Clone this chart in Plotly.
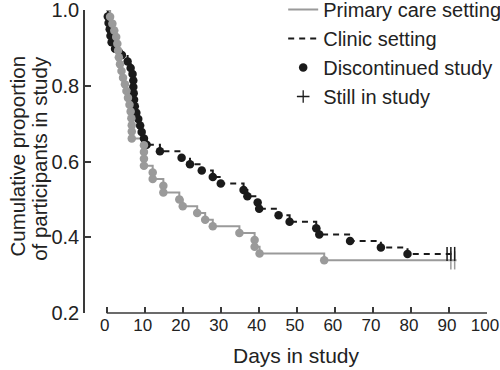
import plotly.graph_objects as go

# ---------------- data ----------------
# Primary care setting: event (discontinuation) times and survival after each event
primary_days = [0.9, 1.5, 2.0, 2.5, 2.8, 3.0, 3.2, 3.5, 3.9, 4.3, 4.8, 5.2, 5.6, 6.0,
                6.3, 6.5, 6.6, 6.6, 6.6, 9.8, 9.8, 9.8, 9.8, 12.1, 12.1, 14.9, 14.9,
                19.1, 20.0, 23.8, 25.9, 27.9, 34.9, 38.9, 38.9, 40.2, 57.2]
primary_surv = [0.982, 0.964, 0.946, 0.929, 0.911, 0.893, 0.875, 0.857, 0.839, 0.821,
                0.804, 0.786, 0.768, 0.750, 0.732, 0.714, 0.696, 0.679, 0.661, 0.643,
                0.625, 0.607, 0.589, 0.571, 0.554, 0.536, 0.518, 0.500, 0.482, 0.464,
                0.446, 0.429, 0.411, 0.393, 0.375, 0.357, 0.339]
primary_censor_days = [90.5, 91.5]
primary_end_day = 92.0

# Clinic setting
clinic_days = [0.3, 0.5, 0.8, 1.0, 1.3, 2.2, 4.0, 5.5, 6.3, 6.8, 7.0, 7.0, 7.1, 7.2,
               7.4, 7.8, 8.3, 8.8, 9.2, 9.8, 10.5, 14.0, 19.7, 21.9, 25.0, 27.9, 30.0,
               36.0, 37.0, 39.7, 40.1, 45.2, 48.1, 55.1, 55.9, 64.0, 72.1, 79.1]
clinic_surv = [0.983, 0.966, 0.949, 0.932, 0.915, 0.898, 0.881, 0.864, 0.847, 0.831,
               0.814, 0.797, 0.780, 0.763, 0.746, 0.729, 0.712, 0.695, 0.678, 0.661,
               0.644, 0.627, 0.610, 0.593, 0.576, 0.559, 0.542, 0.525, 0.508, 0.492,
               0.475, 0.458, 0.441, 0.424, 0.407, 0.390, 0.373, 0.356]
clinic_censor_days = [89.5, 90.5, 91.5]
clinic_end_day = 92.0

x_ticks = [0, 10, 20, 30, 40, 50, 60, 70, 80, 90, 100]
y_ticks = [0.2, 0.4, 0.6, 0.8, 1.0]
y_tick_labels = ["0.2", "0.4", "0.6", "0.8", "1.0"]

GRAY = "#9a9a9a"
BLACK = "#1a1a1a"
AXIS = "#3a3a3a"
FONT = "Liberation Sans, Arial, sans-serif"

fig = go.Figure()

# clinic step line (dashed)
fig.add_trace(go.Scatter(
    x=[0] + clinic_days + [clinic_end_day],
    y=[1.0] + clinic_surv + [clinic_surv[-1]],
    mode="lines", line=dict(color=BLACK, width=2, dash="6px,5px", shape="hv"),
    name="Clinic setting", legendrank=2, hoverinfo="skip"))
# primary step line
fig.add_trace(go.Scatter(
    x=[0] + primary_days + [primary_end_day],
    y=[1.0] + primary_surv + [primary_surv[-1]],
    mode="lines", line=dict(color=GRAY, width=2, shape="hv"),
    name="Primary care setting", legendrank=1, hoverinfo="skip"))
# clinic events
fig.add_trace(go.Scatter(
    x=clinic_days, y=clinic_surv, mode="markers",
    marker=dict(color=BLACK, size=8.5, symbol="circle"),
    name="Discontinued study", legendrank=3, showlegend=True))
# primary events
fig.add_trace(go.Scatter(
    x=primary_days, y=primary_surv, mode="markers",
    marker=dict(color=GRAY, size=8.5, symbol="circle"),
    showlegend=False))
# censor marks
fig.add_trace(go.Scatter(
    x=primary_censor_days, y=[primary_surv[-1]] * len(primary_censor_days),
    mode="markers", marker=dict(symbol="line-ns", size=13,
                                line=dict(color=GRAY, width=1.5)),
    showlegend=False))
fig.add_trace(go.Scatter(
    x=clinic_censor_days, y=[clinic_surv[-1]] * len(clinic_censor_days),
    mode="markers", marker=dict(symbol="line-ns", size=10,
                                line=dict(color=BLACK, width=1.5)),
    showlegend=False))
# legend-only entry for censor symbol
fig.add_trace(go.Scatter(
    x=[None], y=[None], mode="markers",
    marker=dict(symbol="cross-thin", size=9, line=dict(color=BLACK, width=1.3)),
    name="Still in study", legendrank=4))

# x axis line from 0 to 100 (offset-axis style)
fig.add_shape(type="line", xref="x", yref="paper", x0=x_ticks[0], x1=x_ticks[-1],
              y0=0, y1=0, line=dict(color=AXIS, width=1.5))

fig.add_annotation(text="Days in study", xref="x", yref="paper",
                   x=(x_ticks[0] + x_ticks[-1]) / 2, y=-0.14, showarrow=False,
                   xanchor="center", yanchor="middle",
                   font=dict(size=21, color="#222", family=FONT))
fig.add_annotation(text="Cumulative proportion",
                   xref="paper", yref="paper", x=-0.168, y=0.518, textangle=-90,
                   showarrow=False, xanchor="center", yanchor="middle",
                   font=dict(size=20.5, color="#222", family=FONT))
fig.add_annotation(text="of participants in study",
                   xref="paper", yref="paper", x=-0.112, y=0.512, textangle=-90,
                   showarrow=False, xanchor="center", yanchor="middle",
                   font=dict(size=20.5, color="#222", family=FONT))

fig.update_layout(
    width=500, height=370,
    margin=dict(l=85, r=13.3, t=10, b=57.3, autoexpand=False),
    paper_bgcolor="white", plot_bgcolor="white",
    font=dict(family=FONT, size=19, color="#222"),
    showlegend=True,
    legend=dict(x=0.493, y=1.066, xanchor="left", yanchor="top",
                bgcolor="rgba(0,0,0,0)", font=dict(size=20, color="#222"),
                traceorder="normal"),
    xaxis=dict(range=[-5.7, 100], tickvals=x_ticks, ticks="inside", ticklen=6,
               tickwidth=1.5, tickcolor=AXIS, showline=False, showgrid=False,
               zeroline=False, tickfont=dict(size=17, color="#222"),
               ticklabelshift=-2, ticklabeloverflow="allow"),
    yaxis=dict(range=[0.2, 1.0], tickvals=y_ticks, ticktext=y_tick_labels,
               ticks="inside", ticklen=6, tickwidth=1.5, tickcolor=AXIS,
               showline=True, linecolor=AXIS, linewidth=1.5, showgrid=False,
               zeroline=False, tickfont=dict(size=20, color="#222"),
               ticklabeloverflow="allow"),
)

fig.write_html("out.html")
